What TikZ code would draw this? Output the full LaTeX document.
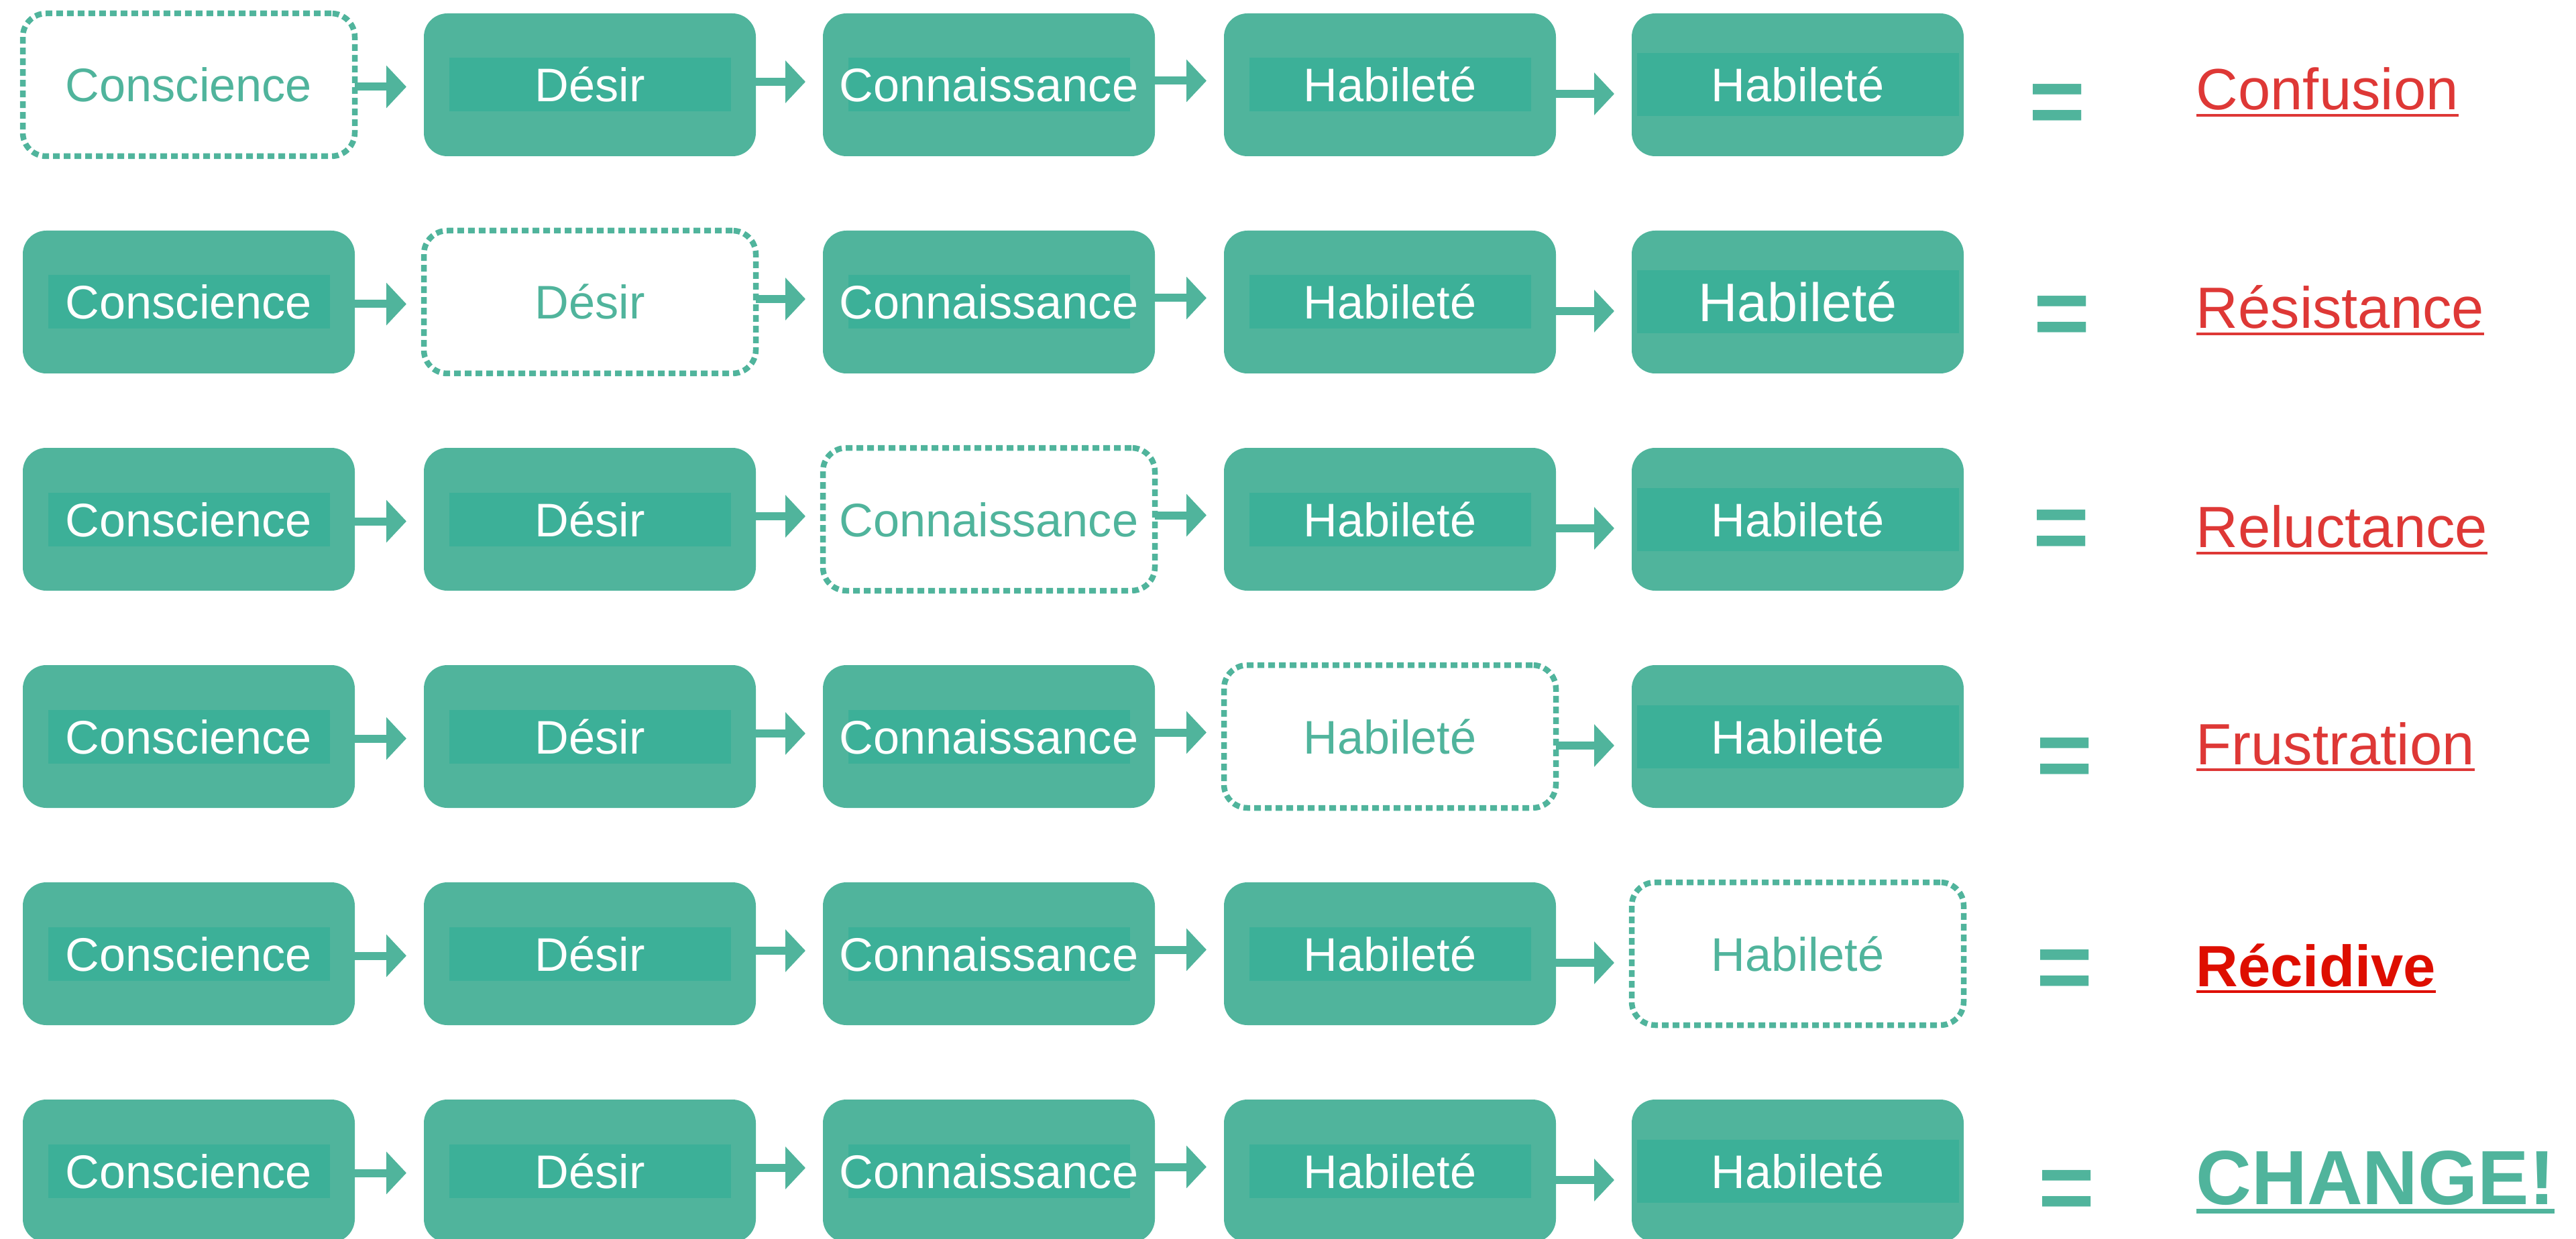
\documentclass[tikz,border=0pt]{standalone}
\usepackage{fontspec}
\setmainfont{Liberation Sans}
\usepackage{xcolor}
\usepackage{tikz}
\usetikzlibrary{positioning,arrows.meta}
\definecolor{stepteal}{RGB}{80,180,156}
\definecolor{stripeteal}{RGB}{60,176,152}
\definecolor{alarmred}{RGB}{222,56,54}
\definecolor{relapsered}{RGB}{222,14,0}
\newcommand\boxfont{\fontsize{20}{24}\selectfont}
\newsavebox\labelbox
\newcommand\resultline[2]{\sbox\labelbox{#2}\rlap{\usebox\labelbox}\rule[-0.12em]{\wd\labelbox}{#1}}
\tikzset{
  stepbox/.style={fill=stepteal, rounded corners=0.35cm, minimum width=4.95cm, minimum height=2.13cm,
    inner sep=0pt, outer sep=0pt, text=white, font=\boxfont, text height=0.51cm, text depth=0pt,
    path picture={\fill[stripeteal, sharp corners] (path picture bounding box.center) ++(-2.1,-0.4) rectangle ++(4.2,0.8);}},
  endbox/.style={stepbox,
    path picture={\fill[stripeteal, sharp corners] (path picture bounding box.center) ++(-2.4,-0.47) rectangle ++(4.8,0.94);}},
  gapbox/.style={draw=stepteal, line width=0.085cm, dash pattern=on 0.1cm off 0.06cm, fill=white,
    rounded corners=0.35cm, minimum width=4.95cm, minimum height=2.13cm,
    inner sep=0pt, outer sep=0pt, text=stepteal, font=\boxfont, text height=0.51cm, text depth=0pt},
  flow/.style={draw=stepteal, line width=0.12cm, -{Triangle[length=0.3cm, width=0.62cm]}, shorten >=0.26cm},
  equals/.style={text=stepteal, inner sep=0pt, font=\fontsize{41}{41}\selectfont\bfseries},
  result/.style={anchor=base west, inner sep=0pt, text=alarmred, font=\fontsize{24.7}{30}\selectfont},
}
\begin{document}
\begin{tikzpicture}[node distance=1.11cm, every node/.style={align=center}]
  \useasboundingbox (0,0) rectangle (38.41,-18.48);

  % Row 1
  \node[gapbox] (r1c1) at (2.815,-1.265) {Conscience};
  \node[stepbox, right=1.03cm of r1c1] (r1c2) {Désir};
  \node[stepbox, right=1.00cm of r1c2] (r1c3) {Connaissance};
  \node[stepbox, right=1.03cm of r1c3] (r1c4) {Habileté};
  \node[endbox, right=1.13cm of r1c4] (r1c5) {Habileté};

  % Row 2
  \node[stepbox, below=of r1c1] (r2c1) {Conscience};
  \node[gapbox, right=1.03cm of r2c1] (r2c2) {Désir};
  \node[stepbox, right=1.00cm of r2c2] (r2c3) {Connaissance};
  \node[stepbox, right=1.03cm of r2c3] (r2c4) {Habileté};
  \node[endbox, right=1.13cm of r2c4, font=\fontsize{23}{28}\selectfont, text height=0.59cm] (r2c5) {Habileté};

  % Row 3
  \node[stepbox, below=of r2c1] (r3c1) {Conscience};
  \node[stepbox, right=1.03cm of r3c1] (r3c2) {Désir};
  \node[gapbox, right=1.00cm of r3c2] (r3c3) {Connaissance};
  \node[stepbox, right=1.03cm of r3c3] (r3c4) {Habileté};
  \node[endbox, right=1.13cm of r3c4] (r3c5) {Habileté};

  % Row 4
  \node[stepbox, below=of r3c1] (r4c1) {Conscience};
  \node[stepbox, right=1.03cm of r4c1] (r4c2) {Désir};
  \node[stepbox, right=1.00cm of r4c2] (r4c3) {Connaissance};
  \node[gapbox, right=1.03cm of r4c3] (r4c4) {Habileté};
  \node[endbox, right=1.13cm of r4c4] (r4c5) {Habileté};

  % Row 5
  \node[stepbox, below=of r4c1] (r5c1) {Conscience};
  \node[stepbox, right=1.03cm of r5c1] (r5c2) {Désir};
  \node[stepbox, right=1.00cm of r5c2] (r5c3) {Connaissance};
  \node[stepbox, right=1.03cm of r5c3] (r5c4) {Habileté};
  \node[gapbox, right=1.13cm of r5c4] (r5c5) {Habileté};

  % Row 6
  \node[stepbox, below=of r5c1] (r6c1) {Conscience};
  \node[stepbox, right=1.03cm of r6c1] (r6c2) {Désir};
  \node[stepbox, right=1.00cm of r6c2] (r6c3) {Connaissance};
  \node[stepbox, right=1.03cm of r6c3] (r6c4) {Habileté};
  \node[endbox, right=1.13cm of r6c4] (r6c5) {Habileté};

  % Arrows
  \foreach \rw in {1,...,6}
    \foreach \src/\dst/\dy in {1/2/-0.03, 2/3/0.045, 3/4/0.06, 4/5/-0.135}
      \draw[flow] ([yshift=\dy cm]r\rw c\src.east) -- ([yshift=\dy cm]r\rw c\dst.west);

  % Results
  \node[equals] (eq1) at (30.68,-1.63) {=};
  \node[equals] (eq2) at (30.75,-4.79) {=};
  \node[equals] (eq3) at (30.74,-7.98) {=};
  \node[equals] (eq4) at (30.79,-11.38) {=};
  \node[equals] (eq5) at (30.79,-14.54) {=};
  \node[equals] (eq6) at (30.82,-17.83) {=};

  \node[result] (res1) at (32.74,-1.64) {\resultline{0.05em}{Confusion}};
  \node[result] (res2) at (32.74,-4.90) {\resultline{0.05em}{Résistance}};
  \node[result] (res3) at (32.74,-8.17) {\resultline{0.05em}{Reluctance}};
  \node[result] (res4) at (32.74,-11.40) {\resultline{0.05em}{Frustration}};
  \node[result, text=relapsered, font=\fontsize{24.7}{30}\selectfont\bfseries] (res5) at (32.74,-14.71) {\resultline{0.05em}{Récidive}};
  \node[result, text=stepteal, font=\fontsize{32.6}{38}\selectfont\bfseries] (res6) at (32.74,-17.96) {\resultline{0.06em}{CHANGE!}};
\end{tikzpicture}
\end{document}
